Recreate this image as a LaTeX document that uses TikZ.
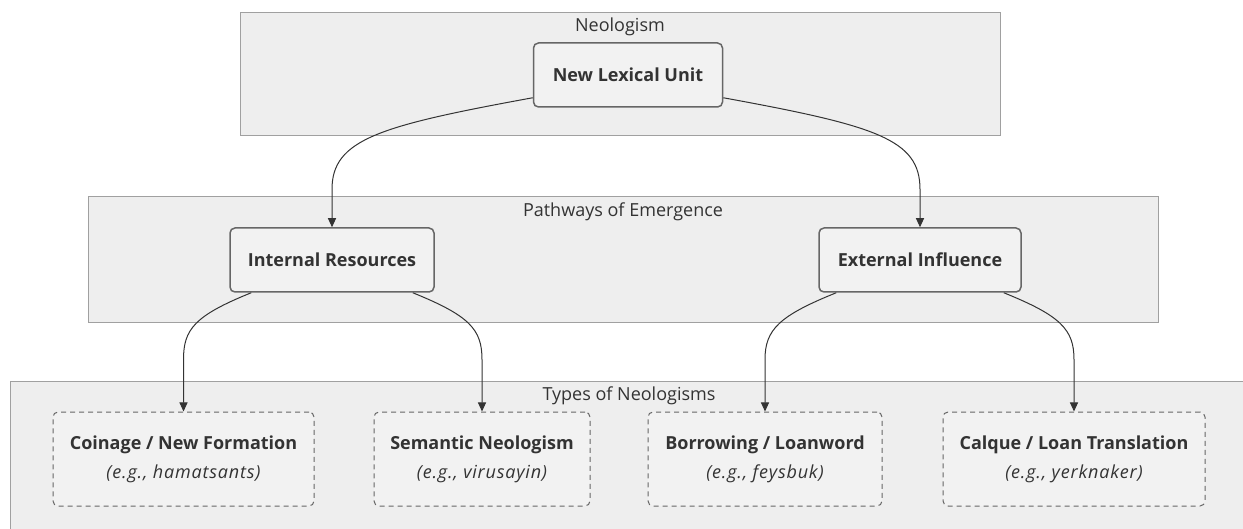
\documentclass[tikz,border=0pt]{standalone}
\usepackage{fontspec}
\setmainfont{Open Sans}
\usetikzlibrary{calc,arrows.meta}
\definecolor{txt}{HTML}{333333}
\definecolor{clfill}{HTML}{EEEEEE}
\definecolor{cldraw}{HTML}{A0A0A0}
\definecolor{ndfill}{HTML}{F2F2F2}
\definecolor{nddraw}{HTML}{666666}
\definecolor{lnc}{HTML}{333333}
\tikzset{
  cluster/.style={draw=cldraw, fill=clfill, line width=1pt},
  cltitle/.style={text=txt, font=\fontsize{18}{20}\selectfont, inner sep=0pt},
  solidbox/.style={draw=nddraw, fill=ndfill, line width=1.5pt, rounded corners=5pt,
    minimum height=64pt, text=txt, font=\fontsize{18}{20}\selectfont\bfseries, inner sep=0pt},
  dashbox/.style={draw=nddraw, fill=ndfill, line width=1pt, dash pattern=on 5pt off 4pt,
    rounded corners=5pt, minimum height=94pt, text=txt, align=center,
    font=\fontsize{18}{29}\selectfont, inner sep=0pt},
  edge/.style={draw=lnc, line width=1pt, -{Triangle[length=9pt,width=8pt]}},
}
\newcommand{\exmpl}[1]{{\fontsize{18}{29}\selectfont\itshape\addfontfeature{LetterSpace=4.5}#1}}
\begin{document}
\begin{tikzpicture}[x=1pt,y=-1pt]
\useasboundingbox (0,0) rectangle (1243,529);
\clip (0,0) rectangle (1243,529);
\fill[white] (0,0) rectangle (1243,529);
% clusters
\draw[cluster] (240,13) rectangle (1000,136);
\node[cltitle] (t1) at (620,27) {Neologism};
\draw[cluster] (88,197) rectangle (1158,323);
\node[cltitle] (t2) at (623,212) {Pathways of Emergence};
\draw[cluster] (10,382) rectangle (1250,545);
\node[cltitle] (t3) at (629,396) {Types of Neologisms};
% nodes
\node[solidbox, minimum width=189pt] (nlu) at (628,75) {New Lexical Unit};
\node[solidbox, minimum width=204pt] (ir) at (332,260) {Internal Resources};
\node[solidbox, minimum width=202pt] (ei) at (920,260) {External Influence};
\node[dashbox, minimum width=261pt] (co) at (183.5,459) {\textbf{Coinage / New Formation}\\\exmpl{(e.g., hamatsants)}};
\node[dashbox, minimum width=216pt] (se) at (482,459) {\textbf{Semantic Neologism}\\\exmpl{(e.g., virusayin)}};
\node[dashbox, minimum width=234pt] (bo) at (765,459) {\textbf{Borrowing / Loanword}\\\exmpl{(e.g., feysbuk)}};
\node[dashbox, minimum width=262pt] (ca) at (1074,459) {\textbf{Calque / Loan Translation}\\\exmpl{(e.g., yerknaker)}};
% edges
\draw[edge] ([yshift=10pt]nlu.south west) .. controls +(-153,28) and +(0,-50) .. ($(ir.north)+(0,-38)$) -- (ir.north);
\draw[edge] ([yshift=10pt]nlu.south east) .. controls +(153,28) and +(0,-50) .. ($(ei.north)+(0,-38)$) -- (ei.north);
\draw[edge] ([xshift=22pt]ir.south west) .. controls +(-57,23) and +(0,-30) .. ($(co.north)+(0,-52)$) -- (co.north);
\draw[edge] ([xshift=-22pt]ir.south east) .. controls +(57,23) and +(0,-30) .. ($(se.north)+(0,-52)$) -- (se.north);
\draw[edge] ([xshift=18pt]ei.south west) .. controls +(-57,23) and +(0,-30) .. ($(bo.north)+(0,-52)$) -- (bo.north);
\draw[edge] ([xshift=-18pt]ei.south east) .. controls +(57,23) and +(0,-30) .. ($(ca.north)+(0,-52)$) -- (ca.north);
\end{tikzpicture}
\end{document}
